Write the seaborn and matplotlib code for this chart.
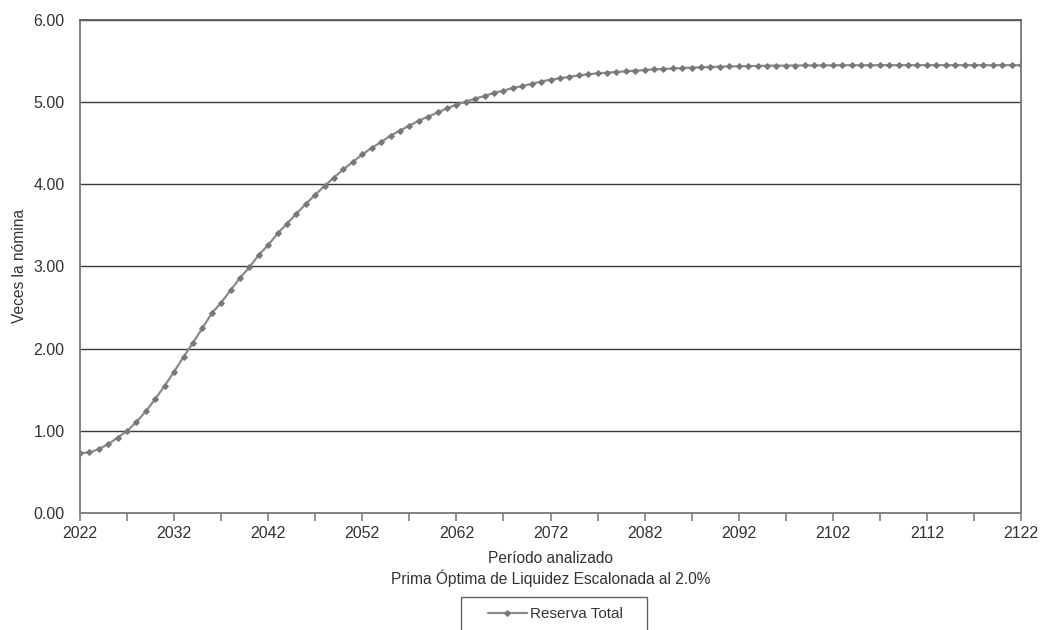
import numpy as np
import pandas as pd
import matplotlib
matplotlib.use("Agg")
import matplotlib.pyplot as plt
from matplotlib.patches import Rectangle
import seaborn as sns

years = list(range(2022, 2123))
reserva_total = [
    0.73, 0.74, 0.78, 0.84, 0.92, 1.00, 1.11, 1.24, 1.39, 1.55,
    1.72, 1.90, 2.07, 2.25, 2.43, 2.56, 2.71, 2.86, 2.99, 3.14,
    3.26, 3.40, 3.52, 3.64, 3.76, 3.87, 3.98, 4.08, 4.18, 4.27,
    4.36, 4.44, 4.51, 4.59, 4.65, 4.71, 4.77, 4.82, 4.87, 4.92,
    4.965, 5.00, 5.04, 5.07, 5.11, 5.135, 5.17, 5.19, 5.22, 5.245,
    5.27, 5.285, 5.305, 5.32, 5.334, 5.346, 5.354, 5.362, 5.371, 5.378,
    5.386, 5.395, 5.398, 5.405, 5.41, 5.414, 5.419, 5.423, 5.427, 5.43,
    5.432, 5.434, 5.436, 5.438, 5.439, 5.44, 5.441, 5.442, 5.442, 5.443,
    5.443, 5.444, 5.444, 5.444, 5.445, 5.445, 5.445, 5.445, 5.445, 5.445,
    5.445, 5.445, 5.445, 5.445, 5.445, 5.445, 5.445, 5.445, 5.445, 5.445,
    5.445,
]
series_name = "Reserva Total"
y_ticks = [0, 1, 2, 3, 4, 5, 6]
x_major = list(range(2022, 2123, 10))
x_minor = list(range(2027, 2123, 10))
x_label = "Período analizado\nPrima Óptima de Liquidez Escalonada al 2.0%"
y_label = "Veces la nómina"

df = pd.DataFrame({"Año": years, "valor": reserva_total, "serie": series_name})

sns.set_theme(style="white")
plt.rcParams["font.family"] = ["Liberation Sans", "DejaVu Sans"]
text_color = "#333333"

fig = plt.figure(figsize=(10.42, 6.30), dpi=100)
ax = fig.add_axes([80 / 1042, 1 - 513.3 / 630, (1021 - 80) / 1042, (513.3 - 19.5) / 630])

sns.lineplot(data=df, x="Año", y="valor", hue="serie", palette=["#8a8a8a"],
             marker="D", markersize=3.0, markeredgecolor="#787878",
             markerfacecolor="#787878", linewidth=1.6, ax=ax, legend=True)

ax.set_xlim(2022, 2122)
ax.set_ylim(0, 6)
ax.set_yticks(y_ticks)
ax.set_yticklabels([f"{v:.2f}" for v in y_ticks])
ax.set_xticks(x_major)
ax.set_xticks(x_minor, minor=True)
ax.set_xticklabels([str(v) for v in x_major])

for y in y_ticks[1:]:
    ax.axhline(y, color="#3a3a3a", lw=1.0, zorder=0)

for side in ["left", "bottom", "right", "top"]:
    ax.spines[side].set_color("#808080")
    ax.spines[side].set_linewidth(1.4)
ax.spines["top"].set_color("#606060")

ax.tick_params(axis="both", which="both", direction="out", colors="#808080",
               labelcolor=text_color, labelsize=11.5)
ax.tick_params(axis="y", length=6, width=1.2, pad=5)
ax.tick_params(axis="x", which="both", length=6, width=1.2, pad=3, bottom=True)

ax.set_xlabel(x_label, color=text_color, fontsize=11.2, labelpad=7, linespacing=1.25)
ax.set_ylabel(y_label, color=text_color, fontsize=11.2, labelpad=5)

handles, labels = ax.get_legend_handles_labels()
ax.legend(handles, labels, loc="center",
          bbox_to_anchor=(555 / 1042, 1 - 614 / 630), bbox_transform=fig.transFigure,
          frameon=False, fontsize=11, handlelength=2.6, handletextpad=0.15,
          borderpad=0, borderaxespad=0)
leg = ax.get_legend()
for t in leg.get_texts():
    t.set_color(text_color)

fig.patches.append(Rectangle((461 / 1042, 1 - 660 / 630), 186 / 1042, 63 / 630,
                             transform=fig.transFigure, fill=False,
                             edgecolor="#606060", linewidth=1.0))

fig.savefig("out.png", dpi=100)
